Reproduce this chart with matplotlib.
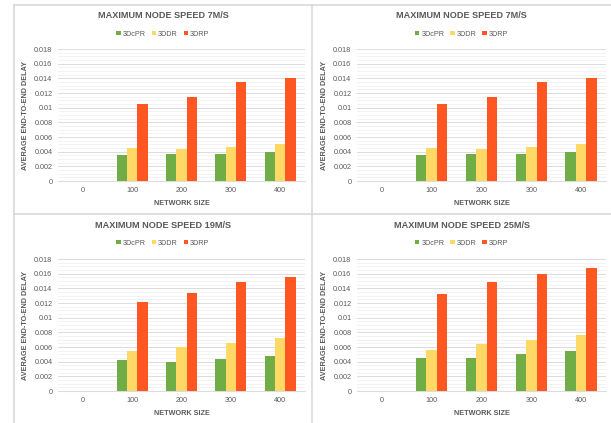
import matplotlib
matplotlib.use("Agg")
import matplotlib.pyplot as plt
import numpy as np
from matplotlib.lines import Line2D
from matplotlib.ticker import MultipleLocator, FuncFormatter

plt.rcParams["font.family"] = ["Liberation Sans", "DejaVu Sans"]

# ---------------- data ----------------
network_size = ["0", "100", "200", "300", "400"]
series_names = ["3DcPR", "3DDR", "3DRP"]
series_colors = ["#70ad47", "#ffd966", "#ff5722"]

titles = ["MAXIMUM NODE SPEED 7M/S", "MAXIMUM NODE SPEED 7M/S",
          "MAXIMUM NODE SPEED 19M/S", "MAXIMUM NODE SPEED 25M/S"]

# speed 7 m/s (shown twice)
cpr_7 = [0, 0.0035, 0.0037, 0.0037, 0.0040]
ddr_7 = [0, 0.0045, 0.0044, 0.0046, 0.0050]
drp_7 = [0, 0.0105, 0.0115, 0.0135, 0.0140]
# speed 19 m/s
cpr_19 = [0, 0.0042, 0.0040, 0.0044, 0.0048]
ddr_19 = [0, 0.0054, 0.0060, 0.0066, 0.0072]
drp_19 = [0, 0.0122, 0.0133, 0.0148, 0.0155]
# speed 25 m/s
cpr_25 = [0, 0.0045, 0.0045, 0.0050, 0.0054]
ddr_25 = [0, 0.0056, 0.0064, 0.0069, 0.0077]
drp_25 = [0, 0.0132, 0.0149, 0.0160, 0.0168]

panel_data = [
    [cpr_7, ddr_7, drp_7],
    [cpr_7, ddr_7, drp_7],
    [cpr_19, ddr_19, drp_19],
    [cpr_25, ddr_25, drp_25],
]

W, H = 611, 423
fig = plt.figure(figsize=(W / 100, H / 100), dpi=100)
fig.patch.set_facecolor("white")

def fx(px):
    return px / W

def fy(py):
    return 1 - py / H

text_col = "#595959"
grid_col = "#dcdcdc"

# panel geometry in pixels: (panel left, panel right, panel top, axes left, axes right, axes top, axes bottom)
panels = [
    (14, 312, 5, 58, 305, 49, 181),
    (312, 611, 5, 357, 606, 49, 181),
    (14, 312, 214, 58, 305, 259, 391),
    (312, 611, 214, 357, 606, 259, 391),
]

# ---- panel borders ----
border = "#d9d9d9"
fig.add_artist(Line2D([fx(14), fx(611)], [fy(5), fy(5)], color=border, lw=1.2))
fig.add_artist(Line2D([fx(14), fx(611)], [fy(214), fy(214)], color=border, lw=1.2))
fig.add_artist(Line2D([fx(14), fx(14)], [fy(5), fy(423)], color=border, lw=1.2))
fig.add_artist(Line2D([fx(312), fx(312)], [fy(5), fy(423)], color=border, lw=1.2))

x = np.arange(len(network_size))
bw = 0.21

for i, (pl, pr, pt, al, ar, at, ab) in enumerate(panels):
    ax = fig.add_axes([fx(al), fy(ab), fx(ar - al), (ab - at) / H])
    for k, vals in enumerate(panel_data[i]):
        ax.bar(x + (k - 1) * bw, vals, width=bw, color=series_colors[k],
               label=series_names[k], zorder=3)
    ax.set_xlim(-0.5, len(network_size) - 0.5)
    ax.set_ylim(0, 0.018)
    ax.yaxis.set_major_locator(MultipleLocator(0.002))
    ax.yaxis.set_minor_locator(MultipleLocator(0.0005))
    ax.yaxis.set_major_formatter(FuncFormatter(lambda v, p: "%g" % round(v, 4)))
    ax.set_xticks(x)
    ax.set_xticklabels(network_size)
    ax.grid(axis="y", which="major", color=grid_col, lw=0.7, zorder=0)
    ax.grid(axis="y", which="minor", color="#f1f1f1", lw=0.6, zorder=0)
    for s in ["top", "right", "left"]:
        ax.spines[s].set_visible(False)
    ax.spines["bottom"].set_color(grid_col)
    ax.spines["bottom"].set_linewidth(0.8)
    ax.tick_params(axis="both", which="both", length=0, labelsize=5.2,
                   labelcolor=text_col, pad=4)
    ax.set_facecolor("none")

    cx = fx((pl + pr) / 2)
    fig.text(cx, fy(pt + 11), titles[i], ha="center", va="center",
             fontsize=6.6, fontweight="bold", color=text_col)
    ax.legend(loc="center", bbox_to_anchor=(cx, fy(pt + 29)),
              bbox_transform=fig.transFigure, ncol=3, frameon=False,
              fontsize=5.2, labelcolor=text_col, handlelength=0.6,
              handleheight=0.6, handletextpad=0.3, columnspacing=0.8)
    fig.text(fx((al + ar) / 2), fy(ab + 22), "NETWORK SIZE", ha="center",
             va="center", fontsize=5.2, fontweight="bold", color=text_col)
    fig.text(fx(pl + 12), fy((at + ab) / 2), "AVERAGE END-TO-END DELAY",
             ha="center", va="center", rotation=90, fontsize=5.2,
             fontweight="bold", color=text_col)

fig.savefig("out.png", dpi=100, facecolor="white")
